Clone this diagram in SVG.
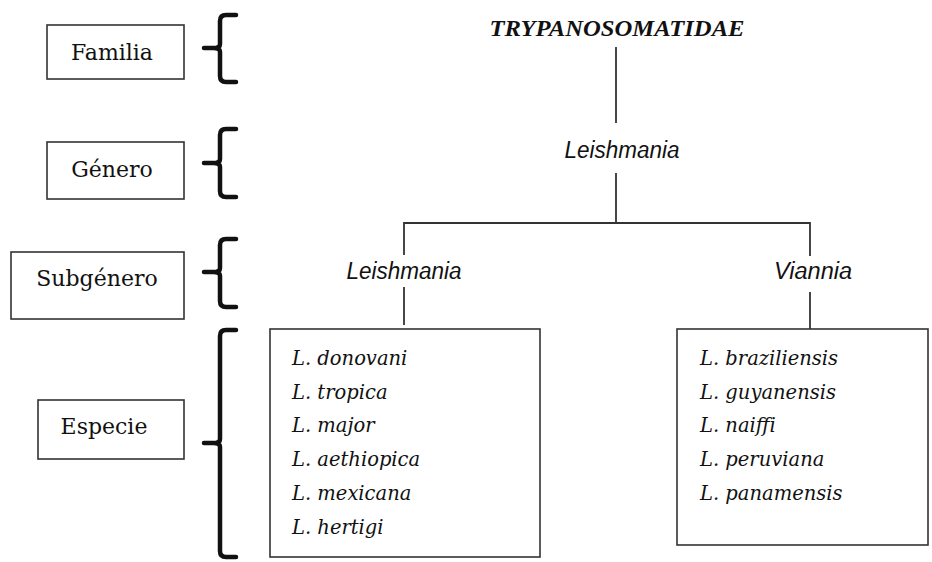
<svg xmlns="http://www.w3.org/2000/svg" width="932" height="562" viewBox="0 0 932 562">
<style>
.box{fill:#fff;stroke:#333;stroke-width:1.6}
.lbl{font-family:"DejaVu Serif","Liberation Serif",serif;font-size:22px;fill:#111}
.brace{fill:none;stroke:#111;stroke-width:4.5;stroke-linecap:round;stroke-linejoin:round}
.conn{fill:none;stroke:#333;stroke-width:1.8}
.gen{font-family:"Liberation Sans",Arial,sans-serif;font-style:italic;font-size:23px;fill:#111}
.sp{font-family:"DejaVu Serif","Liberation Serif",serif;font-style:italic;font-size:19.5px;fill:#111}
.fam{font-family:"Liberation Serif","Times New Roman",serif;font-style:italic;font-weight:bold;font-size:24px;fill:#111}
</style>
<rect width="932" height="562" fill="#fff"/>
<g id="rank-familia">
<rect class="box" x="47" y="25" width="137" height="54"/>
<text class="lbl" x="112" y="60" text-anchor="middle">Familia</text>
<path class="brace" d="M236,15 L226,15 Q220,15 220,21 L220,44 Q220,48 214,48 L204,48 M214,48 Q220,48 220,52 L220,76 Q220,82 226,82 L236,82"/>
</g>
<g id="rank-genero">
<rect class="box" x="47" y="142" width="137" height="57"/>
<text class="lbl" x="112" y="177" text-anchor="middle">Género</text>
<path class="brace" d="M236,129 L226,129 Q220,129 220,135 L220,159 Q220,163 214,163 L204,163 M214,163 Q220,163 220,167 L220,191 Q220,197 226,197 L236,197"/>
</g>
<g id="rank-subgenero">
<rect class="box" x="11" y="252" width="173" height="67"/>
<text class="lbl" x="97" y="286" text-anchor="middle">Subgénero</text>
<path class="brace" d="M236,239 L226,239 Q220,239 220,245 L220,268 Q220,272 214,272 L204,272 M214,272 Q220,272 220,276 L220,301 Q220,307 226,307 L236,307"/>
</g>
<g id="rank-especie">
<rect class="box" x="38" y="400" width="146" height="59"/>
<text class="lbl" x="104" y="434" text-anchor="middle">Especie</text>
<path class="brace" d="M236,330 L226,330 Q220,330 220,336 L220,439 Q220,443 214,443 L204,443 M214,443 Q220,443 220,447 L220,551 Q220,557 226,557 L236,557"/>
</g>
<g id="connectors">
<line class="conn" x1="616" y1="47" x2="616" y2="123"/>
<polyline class="conn" points="616,173 616,223 404,223 404,255"/>
<polyline class="conn" points="616,223 810,223 810,256"/>
<line class="conn" x1="404" y1="287" x2="404" y2="325"/>
<line class="conn" x1="810" y1="292" x2="810" y2="329"/>
</g>
<g id="familia-trypanosomatidae">
<text class="fam" x="617" y="36" text-anchor="middle" textLength="255" lengthAdjust="spacingAndGlyphs">TRYPANOSOMATIDAE</text>
</g>
<g id="genero-leishmania">
<text class="gen" x="622" y="158" text-anchor="middle" textLength="115" lengthAdjust="spacingAndGlyphs">Leishmania</text>
</g>
<g id="subgenero-leishmania">
<text class="gen" x="404" y="279" text-anchor="middle" textLength="115" lengthAdjust="spacingAndGlyphs">Leishmania</text>
</g>
<g id="subgenero-viannia">
<text class="gen" x="813" y="279" text-anchor="middle" textLength="78" lengthAdjust="spacingAndGlyphs">Viannia</text>
</g>
<g id="especies-leishmania">
<rect class="box" x="270" y="329" width="270" height="228"/>
<text class="sp" x="292" y="365">L. donovani</text>
<text class="sp" x="292" y="399">L. tropica</text>
<text class="sp" x="292" y="432">L. major</text>
<text class="sp" x="292" y="466">L. aethiopica</text>
<text class="sp" x="292" y="500">L. mexicana</text>
<text class="sp" x="292" y="534">L. hertigi</text>
</g>
<g id="especies-viannia">
<rect class="box" x="677" y="329" width="251" height="216"/>
<text class="sp" x="700" y="365">L. braziliensis</text>
<text class="sp" x="700" y="399">L. guyanensis</text>
<text class="sp" x="700" y="432">L. naiffi</text>
<text class="sp" x="700" y="466">L. peruviana</text>
<text class="sp" x="700" y="500">L. panamensis</text>
</g>
</svg>
